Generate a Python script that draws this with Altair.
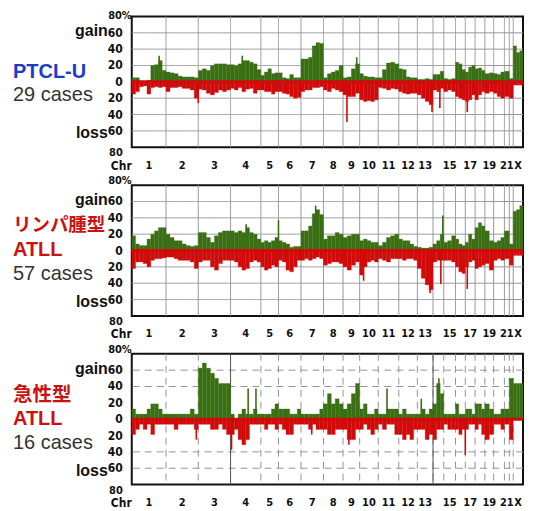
import altair as alt
import pandas as pd

# ---------------- data ----------------
CHROMS = [str(i) for i in range(1, 23)] + ["X"]
# chromosome boundaries along the genome axis (plot units)
CHROM_BOUNDS = [0, 35, 68, 101, 132, 150, 173, 196, 216, 233, 252, 273, 292,
                308, 319, 331, 341, 351, 361, 370, 381, 386, 390, 400]
LABELED = ["1", "2", "3", "4", "5", "6", "7", "8", "9", "10", "11", "12", "13",
           "15", "17", "19", "21", "X"]
TICK_LEVELS = [60, 40, 20, 0, -20, -40, -60]
TICK_TEXT = ["60", "40", "20", "0", "20", "40", "60"]

# PTCL-U (29 cases) : % of cases with gain / loss, per chromosome sub-bins
ptcl_gain = [
    [5, 5, 1, 0, 2, 20, 21, 26, 14], [12, 11, 10, 7, 6, 6, 6, 5],
    [14, 16, 14, 20, 22, 22, 22, 21], [21, 20, 22, 26, 26, 24, 22, 15],
    [8, 12, 16, 10, 11], [11, 5, 4, 9, 5, 5], [28, 28, 30, 44, 48, 47],
    [5, 10, 12, 14, 20], [5, 6, 16, 22], [10, 7, 6, 6, 5], [5, 15, 23, 24, 22],
    [16, 15, 6, 5, 5], [3, 3, 4, 3], [9, 9, 13], [4, 3, 4], [24, 22, 15],
    [12, 18, 20], [16, 17, 14], [10, 11], [10, 9, 12], [13], [4], [44, 36, 38]]
ptcl_loss = [
    [15, 12, 6, 5, 15, 7, 6, 7, 6], [12, 7, 7, 6, 8, 8, 10, 20],
    [9, 10, 14, 16, 13, 10, 12, 10], [8, 10, 7, 12, 9, 8, 14, 10],
    [10, 12, 12, 15, 12], [12, 14, 15, 18, 20, 19], [12, 10, 10, 7, 7, 6],
    [10, 12, 8, 10, 12], [16, 18, 18, 14], [22, 24, 23, 24, 22], [7, 8, 10, 8, 9],
    [12, 14, 15, 14, 14], [16, 20, 24, 28], [10, 12, 8], [12, 10, 12], [18, 20, 22],
    [24, 22, 16], [22, 16, 12], [14, 12], [14, 18, 20], [18], [20], [4, 4, 4]]
ptcl_gain_spike_pos = [28, 113, 230]
ptcl_gain_spike_val = [32, 32, 30]
ptcl_loss_spike_pos = [68, 220, 307, 315, 343]
ptcl_loss_spike_val = [26, 49, 37, 32, 37]

# lymphoma-type ATLL (57 cases)
lymph_gain = [
    [18, 8, 6, 6, 14, 20, 24, 28, 28], [20, 16, 12, 12, 8, 6, 5, 6],
    [22, 22, 16, 10, 18, 22, 24, 24], [24, 22, 24, 22, 28, 22, 20, 14],
    [10, 12, 10, 12, 16], [12, 10, 8, 4, 5, 5], [24, 24, 30, 45, 50, 44],
    [14, 18, 18, 22, 20], [16, 18, 20, 20], [12, 14, 12, 10, 10], [6, 10, 16, 18, 20],
    [14, 12, 12, 8, 5], [4, 3, 3, 4], [8, 12, 20], [10, 12, 18], [14, 8, 6],
    [10, 20, 14], [28, 34, 30], [24, 12], [10, 12, 16], [24], [8], [48, 50, 55]]
lymph_loss = [
    [22, 14, 14, 16, 20, 12, 10, 10, 9], [8, 8, 10, 12, 12, 12, 14, 22],
    [14, 12, 12, 20, 24, 16, 12, 12], [12, 14, 20, 24, 22, 14, 12, 14],
    [20, 24, 22, 18, 20], [12, 14, 24, 26, 20, 12], [12, 10, 12, 10, 8, 10],
    [18, 16, 14, 14, 16], [20, 24, 18, 14], [30, 20, 14, 12, 14], [10, 12, 14, 10, 10],
    [10, 12, 10, 10, 12], [22, 34, 42, 48], [14, 12, 12], [12, 12, 14], [20, 26, 28],
    [20, 14, 12], [22, 20, 18], [16, 24], [12, 10, 12], [10], [18], [6, 6, 6]]
lymph_gain_spike_pos = [117, 150, 188, 318]
lymph_gain_spike_val = [32, 37, 55, 43]
lymph_loss_spike_pos = [237, 305, 316, 343]
lymph_loss_spike_val = [37, 52, 41, 47]

# acute-type ATLL (16 cases)
acute_gain = [
    [12.5, 6.25, 6.25, 6.25, 12.5, 18.75, 18.75, 12.5, 6.25],
    [6.25, 6.25, 6.25, 6.25, 6.25, 6.25, 12.5, 6.25],
    [62.5, 68.75, 62.5, 56.25, 50, 43.75, 43.75, 43.75],
    [6.25, 0, 6.25, 12.5, 6.25, 6.25, 12.5, 6.25],
    [6.25, 6.25, 6.25, 12.5, 18.75], [12.5, 12.5, 12.5, 6.25, 6.25, 12.5],
    [6.25, 6.25, 6.25, 6.25, 6.25, 12.5], [18.75, 31.25, 18.75, 25, 18.75],
    [12.5, 18.75, 31.25, 43.75], [12.5, 18.75, 6.25, 6.25, 12.5],
    [6.25, 6.25, 12.5, 12.5, 12.5], [6.25, 12.5, 6.25, 6.25, 6.25],
    [6.25, 12.5, 6.25, 12.5], [18.75, 43.75, 31.25], [6.25, 6.25, 6.25],
    [18.75, 6.25, 6.25], [12.5, 12.5, 6.25], [18.75, 18.75, 12.5], [18.75, 12.5],
    [6.25, 6.25, 12.5], [12.5], [50], [43.75, 43.75, 43.75]]
acute_loss = [
    [18.75, 12.5, 6.25, 12.5, 6.25, 18.75, 6.25, 6.25, 6.25],
    [6.25, 6.25, 12.5, 6.25, 6.25, 6.25, 6.25, 12.5],
    [6.25, 6.25, 6.25, 12.5, 12.5, 6.25, 12.5, 18.75],
    [18.75, 12.5, 25, 31.25, 25, 6.25, 6.25, 6.25],
    [6.25, 12.5, 6.25, 6.25, 12.5], [6.25, 12.5, 18.75, 18.75, 6.25, 6.25],
    [6.25, 6.25, 12.5, 6.25, 12.5, 12.5], [12.5, 18.75, 18.75, 12.5, 12.5],
    [12.5, 25, 25, 12.5], [12.5, 6.25, 12.5, 18.75, 12.5],
    [6.25, 12.5, 6.25, 6.25, 18.75], [18.75, 25, 18.75, 25, 12.5],
    [12.5, 12.5, 25, 18.75], [25, 12.5, 12.5], [6.25, 12.5, 12.5],
    [12.5, 18.75, 12.5], [12.5, 6.25, 6.25], [12.5, 6.25, 18.75], [25, 18.75],
    [6.25, 6.25, 12.5], [6.25], [25], [0, 0, 0]]
acute_gain_spike_pos = [119, 127, 261, 296, 314]
acute_gain_spike_val = [37.5, 37.5, 37.5, 25, 50]
acute_loss_spike_pos = [66, 102, 184, 222, 341]
acute_loss_spike_val = [25, 37.5, 18.75, 31.25, 43.75]

# ---------------- style ----------------
GREEN = "#3a6f14"
RED = "#d10a0a"
BLUE = "#1b3cc6"
TXT_RED = "#cc1111"
SANS = "Liberation Sans, Arial, sans-serif"
NARROW = "Liberation Sans Narrow, Arial Narrow, DejaVu Sans Condensed, Liberation Sans, sans-serif"
CJK = "Noto Sans CJK JP, Noto Sans CJK SC, sans-serif"
W, H = 392, 131
LEFT = -119

xs = alt.Scale(domain=[0, 400], nice=False, zero=False)
ys = alt.Scale(domain=[-80, 80], nice=False, zero=False)


def profile(values_by_chrom, sign):
    rows = []
    for ci, vals in enumerate(values_by_chrom):
        s, e = CHROM_BOUNDS[ci], CHROM_BOUNDS[ci + 1]
        n = len(vals)
        for k, v in enumerate(vals):
            rows.append({"start": s + (e - s) * k / n,
                         "end": s + (e - s) * (k + 1) / n,
                         "value": sign * v, "base": 0})
    return pd.DataFrame(rows)


def spikes(pos, val, sign):
    return pd.DataFrame({"pos": pos, "value": [sign * v for v in val],
                         "base": [0] * len(pos)})


def text_layer(t, x, y, **kw):
    return alt.Chart(pd.DataFrame({"t": [t]})).mark_text(**kw).encode(
        text="t:N", x=alt.value(x), y=alt.value(y))


def build_panel(lines, gain, loss, gsp, gsv, lsp, lsv, grid_levels, dash, solid_after, top_lab_y):
    grid_color = "#959595"
    gdash = [7, 5] if dash else [1, 0]

    hgrid = alt.Chart(pd.DataFrame({"level": grid_levels})).mark_rule(
        color=grid_color, strokeWidth=1, strokeDash=gdash).encode(
        y=alt.Y("level:Q", scale=ys, axis=None))

    vgrid = alt.Chart(pd.DataFrame({"pos": CHROM_BOUNDS[1:-1]})).mark_rule(
        color=grid_color, strokeWidth=1, strokeDash=gdash).encode(
        x=alt.X("pos:Q", scale=xs, axis=None))

    layers = [hgrid, vgrid]
    if solid_after:
        solid = alt.Chart(pd.DataFrame(
            {"pos": [CHROM_BOUNDS[i] for i in solid_after]})).mark_rule(
            color="#555555", strokeWidth=1).encode(x=alt.X("pos:Q", scale=xs, axis=None))
        layers.append(solid)

    for df, color in [(profile(gain, 1), GREEN), (profile(loss, -1), RED)]:
        layers.append(alt.Chart(df).mark_rect(color=color, stroke=color, strokeWidth=0.3).encode(
            x=alt.X("start:Q", scale=xs, axis=None), x2="end:Q",
            y=alt.Y("value:Q", scale=ys, axis=None), y2="base:Q"))
    for df, color in [(spikes(gsp, gsv, 1), GREEN), (spikes(lsp, lsv, -1), RED)]:
        layers.append(alt.Chart(df).mark_rule(color=color, strokeWidth=1.6).encode(
            x=alt.X("pos:Q", scale=xs, axis=None),
            y=alt.Y("value:Q", scale=ys, axis=None), y2="base:Q"))

    zero = alt.Chart(pd.DataFrame({"z": [0]})).mark_rule(color=RED, strokeWidth=3).encode(
        y=alt.Y("z:Q", scale=ys, axis=None))
    layers.append(zero)

    lab = dict(font=NARROW, fontSize=12, fontWeight="bold", color="#111")
    ticks = alt.Chart(pd.DataFrame({"level": TICK_LEVELS, "lab": TICK_TEXT})).mark_text(
        align="right", baseline="middle", **lab).encode(
        y=alt.Y("level:Q", scale=ys, axis=None), x=alt.value(-9), text="lab:N")
    layers.append(ticks)

    centers = [(CHROM_BOUNDS[i] + CHROM_BOUNDS[i + 1]) / 2 for i, c in enumerate(CHROMS) if c in LABELED]
    chrlab = alt.Chart(pd.DataFrame({"label": LABELED, "center": centers})).mark_text(
        font=NARROW, fontSize=11, fontWeight="bold", color="#111", baseline="middle").encode(
        x=alt.X("center:Q", scale=xs, axis=None), y=alt.value(H + 18.5), text="label:N")
    layers.append(chrlab)

    small = dict(lab, fontSize=11)
    layers.append(text_layer("Chr", 0, H + 18.5, align="right", baseline="middle", **lab))
    layers.append(text_layer("80%", 0, top_lab_y, align="right", baseline="alphabetic", **small))
    layers.append(text_layer("80", -9, H, align="right", baseline="top", **small))
    gl = dict(font=SANS, fontSize=16, fontWeight="bold", color="#111", align="right",
              baseline="alphabetic")
    layers.append(text_layer("gain", -24, 20, **gl))
    layers.append(text_layer("loss", -24, 122, **gl))

    for (t, y, kw) in lines:
        layers.append(text_layer(t, LEFT, y, align="left", **kw))

    return alt.layer(*layers).properties(width=W, height=H)


bold_blue = dict(font=SANS, fontSize=20, fontWeight="bold", color=BLUE, baseline="alphabetic")
bold_red = dict(font=SANS, fontSize=20, fontWeight="bold", color=TXT_RED, baseline="alphabetic")
cases = dict(font=SANS, fontSize=20, color="#333333", baseline="alphabetic")

p1 = build_panel([("PTCL-U", 61.5, bold_blue), ("29 cases", 85, cases)],
                 ptcl_gain, ptcl_loss, ptcl_gain_spike_pos, ptcl_gain_spike_val,
                 ptcl_loss_spike_pos, ptcl_loss_spike_val,
                 [60, 40, 20, -20, -40, -60], False, [], 3)
p2 = build_panel([("リンパ腫型", 40, dict(font=CJK, fontSize=18.5, fontWeight="bold",
                                        color=TXT_RED, baseline="middle")),
                  ("ATLL", 71, bold_red), ("57 cases", 95, cases)],
                 lymph_gain, lymph_loss, lymph_gain_spike_pos, lymph_gain_spike_val,
                 lymph_loss_spike_pos, lymph_loss_spike_val,
                 [60, 40, 20, -20, -40, -60], False, [], -1)
p3 = build_panel([("急性型", 41, dict(font=CJK, fontSize=19.5, fontWeight="bold",
                                    color=TXT_RED, baseline="middle")),
                  ("ATLL", 71.5, bold_red), ("16 cases", 95, cases)],
                 acute_gain, acute_loss, acute_gain_spike_pos, acute_gain_spike_val,
                 acute_loss_spike_pos, acute_loss_spike_val,
                 [60, 40, -40, -60], True, [3, 13], -1)

chart = alt.vconcat(p1, p2, p3, spacing=1).properties(
    padding={"left": 4, "top": 1, "right": 0, "bottom": 0},
    background="white",
).configure_view(stroke="#111111", strokeWidth=2)

chart.save("out.html", embed_options={"renderer": "svg", "actions": False})
